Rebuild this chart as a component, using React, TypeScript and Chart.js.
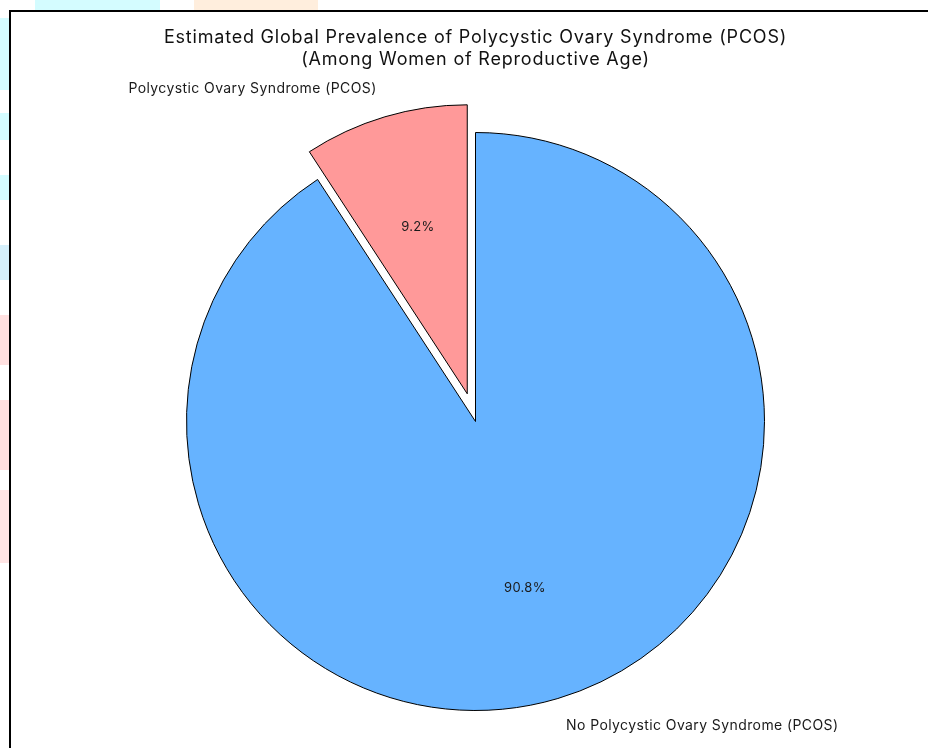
import React, { useEffect, useRef } from "react";
import { Chart, registerables } from "chart.js";

Chart.register(...registerables);

const categories = ["No Polycystic Ovary Syndrome (PCOS)", "Polycystic Ovary Syndrome (PCOS)"];
const shares = [90.8, 9.2];
const sliceColors = ["#66b3ff", "#ff9999"];
const explode = [0, 0.1];
const titleLines = [
  "Estimated Global Prevalence of Polycystic Ovary Syndrome (PCOS)",
  "(Among Women of Reproductive Age)",
];

const FONT = "Inter, sans-serif";
const PIE_RADIUS = 289;

// matplotlib-style explode: shift the whole wedge outwards along its bisector
const explodePlugin = {
  id: "mplExplode",
  afterUpdate(chart: any) {
    const meta = chart.getDatasetMeta(0);
    meta.data.forEach((arc: any, i: number) => {
      const mid = (arc.startAngle + arc.endAngle) / 2;
      const d = (explode[i] || 0) * arc.outerRadius;
      arc.x = arc.x + Math.cos(mid) * d;
      arc.y = arc.y + Math.sin(mid) * d;
    });
  },
  beforeDraw(chart: any) {
    chart.ctx.letterSpacing = "0.8px";
  },
};

const labelPlugin = {
  id: "mplLabels",
  afterDatasetsDraw(chart: any) {
    const ctx = chart.ctx;
    const meta = chart.getDatasetMeta(0);
    ctx.save();
    ctx.fillStyle = "#1a1a1a";
    meta.data.forEach((arc: any, i: number) => {
      const { x, y, startAngle, endAngle, outerRadius } = arc;
      const mid = (startAngle + endAngle) / 2;
      const c = Math.cos(mid);
      const s = Math.sin(mid);
      ctx.font = `14px ${FONT}`;
      ctx.letterSpacing = "0.4px";
      ctx.textBaseline = "middle";
      ctx.textAlign = c < 0 ? "right" : "left";
      ctx.fillText(categories[i], x + c * outerRadius * 1.1, y + s * outerRadius * 1.1);
      ctx.font = `13px ${FONT}`;
      ctx.letterSpacing = "0.3px";
      ctx.textAlign = "center";
      ctx.fillText(shares[i].toFixed(1) + "%", x + c * outerRadius * 0.6, y + s * outerRadius * 0.6);
    });
    ctx.restore();
  },
};

export default function App() {
  const ref = useRef<HTMLCanvasElement | null>(null);
  useEffect(() => {
    document.body.style.margin = "0";
    const chart = new Chart(ref.current!, {
      type: "pie",
      data: {
        labels: categories,
        datasets: [
          {
            data: shares,
            backgroundColor: sliceColors,
            borderColor: "#000000",
            borderWidth: 1,
          },
        ],
      },
      options: {
        responsive: false,
        animation: false,
        radius: PIE_RADIUS,
        layout: { padding: { left: 23, right: 0, top: 0, bottom: 28 } },
        plugins: {
          legend: { display: false },
          tooltip: { enabled: false },
          title: {
            display: true,
            text: titleLines,
            color: "#111111",
            font: { family: FONT, size: 18, weight: "normal", lineHeight: 1.25 },
            padding: { top: 26, bottom: 0 },
          },
        },
      },
      plugins: [explodePlugin, labelPlugin],
    });
    return () => chart.destroy();
  }, []);

  const blob = (l: number, t: number, w: number, h: number, c: string) => (
    <div style={{ position: "absolute", left: l, top: t, width: w, height: h, background: c }} />
  );

  return (
    <div style={{ position: "relative", width: 928, height: 748, overflow: "hidden", background: "#fff" }}>
      {blob(35, 0, 125, 10, "#d4fcff")}
      {blob(194, 0, 124, 10, "#ffeedd")}
      {blob(0, 18, 9, 72, "#d4fcff")}
      {blob(0, 113, 9, 27, "#d4fcff")}
      {blob(0, 175, 9, 25, "#d4fcff")}
      {blob(0, 245, 9, 35, "#d6f0fb")}
      {blob(0, 315, 9, 50, "#ffe0e0")}
      {blob(0, 400, 9, 70, "#ffe0e0")}
      {blob(0, 490, 9, 73, "#ffe4e4")}
      <div
        style={{
          position: "absolute",
          left: 9,
          top: 10,
          width: 960,
          height: 800,
          border: "2px solid #000",
          background: "#fff",
        }}
      />
      <canvas ref={ref} width={928} height={800} style={{ position: "absolute", left: 0, top: 0 }} />
    </div>
  );
}
